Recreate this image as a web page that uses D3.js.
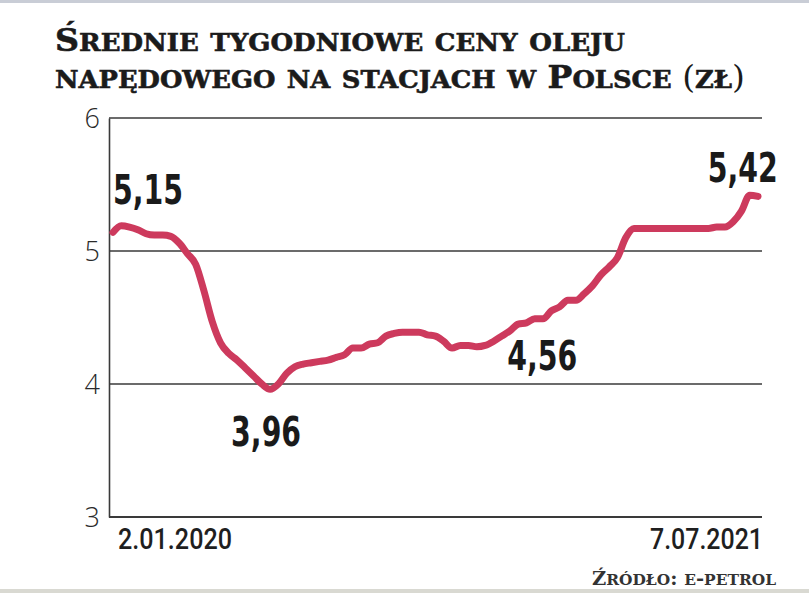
<!DOCTYPE html>
<html><head><meta charset="utf-8">
<script src="https://cdn.jsdelivr.net/npm/d3@7/dist/d3.min.js"></script>
<style>
body{margin:0;background:#fff;}
svg{display:block;}
</style></head>
<body>
<svg id="chart" width="809" height="593"></svg>
<script>
// ---- data ----
const titleLines = ["Średnie tygodniowe ceny oleju", "napędowego na stacjach w Polsce (zł)"];
const sourceText = "Źródło: e-petrol";
const yTicks = [3, 4, 5, 6];
const xTickLabels = ["2.01.2020", "7.07.2021"];
// weekly average diesel prices (zł), 2.01.2020 – 7.07.2021
const prices = [5.14,5.19,5.18,5.16,5.13,5.12,5.12,5.11,5.06,4.98,
                4.90,4.70,4.47,4.31,4.23,4.18,4.12,4.06,4.00,3.96,
                4.00,4.08,4.13,4.15,4.16,4.17,4.18,4.20,4.22,4.27,
                4.27,4.30,4.31,4.36,4.38,4.39,4.39,4.39,4.37,4.36,
                4.32,4.27,4.29,4.29,4.28,4.29,4.32,4.36,4.40,4.45,
                4.46,4.49,4.49,4.55,4.58,4.63,4.63,4.68,4.74,4.82,
                4.88,4.95,5.10,5.17,5.17,5.17,5.17,5.17,5.17,5.17,
                5.17,5.17,5.17,5.18,5.18,5.22,5.30,5.42,5.41];
const annotations = [
  {label:"5,15", idx:0,  value:5.15},
  {label:"3,96", idx:19, value:3.96},
  {label:"4,56", idx:53, value:4.56},
  {label:"5,42", idx:77, value:5.42}
];

// ---- chart ----
(function(){
const svg = d3.select("#chart");
const W = 809, H = 593;
const pLeft = 109, pRight = 762, pTop = 118, pBottom = 517;

svg.append("rect").attr("x",0).attr("y",0).attr("width",W).attr("height",3).attr("fill","#c9cdd6");
svg.append("rect").attr("x",0).attr("y",589).attr("width",W).attr("height",4).attr("fill","#d9d9d2");

const x = d3.scaleLinear().domain([0, prices.length-1]).range([113, 758]);
const y = d3.scaleLinear().domain([3, 6]).range([pBottom, pTop]);

function smallCaps(sel, text, big, small){
  const chars = Array.from(text);
  let runs = [];
  chars.forEach(c=>{
    const isLower = c !== c.toUpperCase();
    const size = isLower ? small : big;
    const ch = c.toUpperCase();
    if(runs.length && runs[runs.length-1].size===size) runs[runs.length-1].t += ch;
    else runs.push({t:ch,size});
  });
  runs.forEach(r=>sel.append("tspan").attr("font-size",r.size).text(r.t));
}

const titleFont = "'DejaVu Serif', 'Liberation Serif', serif";
const tl1 = svg.append("text").attr("x",55).attr("y",51)
  .attr("font-family",titleFont).attr("font-weight","bold").attr("fill","#1b1b1b")
  .attr("stroke","#1b1b1b").attr("stroke-width",0.6)
  .attr("textLength",570).attr("lengthAdjust","spacingAndGlyphs");
smallCaps(tl1, titleLines[0], 32, 25);
const tl2 = svg.append("text").attr("x",55).attr("y",88)
  .attr("font-family",titleFont).attr("font-weight","bold").attr("fill","#1b1b1b")
  .attr("stroke","#1b1b1b").attr("stroke-width",0.6)
  .attr("textLength",690).attr("lengthAdjust","spacingAndGlyphs");
smallCaps(tl2, titleLines[1], 32, 25);
tl2.selectAll("tspan").filter(function(){return /[()]/.test(this.textContent);})
  .attr("font-weight","normal").attr("stroke-width",0);

svg.append("g").selectAll("line").data(yTicks.filter(d=>d>3)).join("line")
  .attr("x1",pLeft).attr("x2",pRight).attr("y1",d=>y(d)).attr("y2",d=>y(d))
  .attr("stroke","#3a3a3a").attr("stroke-width",1.6);

const yAxis = d3.axisLeft(y).tickValues(yTicks).tickSize(0).tickPadding(9).tickFormat(d3.format("d"));
const gy = svg.append("g").attr("transform",`translate(${pLeft},0)`).call(yAxis);
gy.select(".domain").attr("stroke","#3a3a3a").attr("stroke-width",1.6);
gy.selectAll("text").attr("font-family","'Open Sans', sans-serif").attr("font-weight",300)
  .attr("font-size",27).attr("fill","#2a2a2a").attr("dy","0.36em");

svg.append("line").attr("x1",pLeft).attr("x2",pRight).attr("y1",pBottom).attr("y2",pBottom)
  .attr("stroke","#3a3a3a").attr("stroke-width",1.8);

const dateFont = "'Roboto', 'DejaVu Sans', sans-serif";
svg.append("text").attr("x",118).attr("y",549).text(xTickLabels[0])
  .attr("font-family",dateFont).attr("font-weight",500).attr("font-size",30).attr("fill","#1f1f1f")
  .attr("textLength",114).attr("lengthAdjust","spacingAndGlyphs");
svg.append("text").attr("x",650).attr("y",549).text(xTickLabels[1])
  .attr("font-family",dateFont).attr("font-weight",500).attr("font-size",30).attr("fill","#1f1f1f")
  .attr("textLength",113).attr("lengthAdjust","spacingAndGlyphs");

const line = d3.line().x((d,i)=>x(i)).y(d=>y(d)).curve(d3.curveMonotoneX);
svg.append("path").datum(prices).attr("d",line)
  .attr("fill","none").attr("stroke","#cd3a5d").attr("stroke-width",7)
  .attr("stroke-linecap","round").attr("stroke-linejoin","round");

const annFont = "'DejaVu Sans Condensed', 'DejaVu Sans', sans-serif";
const annPos = {
  "5,15": {dx: 0,  yy: 204},
  "3,96": {dx: -39, yy: 446},
  "4,56": {dx: -44, yy: 370},
  "5,42": {dx: -42, yy: 182}
};
annotations.forEach(a=>{
  const p = annPos[a.label];
  svg.append("text").attr("x",x(a.idx)+p.dx).attr("y",p.yy).text(a.label)
    .attr("font-family",annFont).attr("font-weight","bold").attr("font-size",40)
    .attr("fill","#1a1a1a").attr("textLength",70).attr("lengthAdjust","spacingAndGlyphs");
});

const src = svg.append("text").attr("x",592).attr("y",585)
  .attr("font-family",titleFont).attr("font-weight","bold").attr("fill","#333")
  .attr("textLength",184).attr("lengthAdjust","spacingAndGlyphs");
smallCaps(src, sourceText, 19, 15);
})();
</script>
</body></html>
